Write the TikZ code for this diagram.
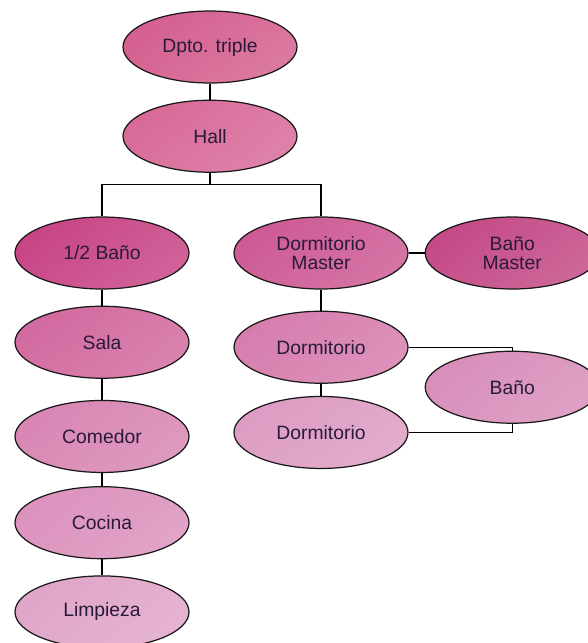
\documentclass[tikz,border=0pt]{standalone}
\usepackage{fontspec}
\setmainfont{Liberation Sans}
\usetikzlibrary{positioning,shapes.geometric}

\definecolor{rosaDpto}{HTML}{D4608F}
\definecolor{rosaHall}{HTML}{D86A98}
\definecolor{rosaMedio}{HTML}{C84585}
\definecolor{rosaDMaster}{HTML}{CD5A94}
\definecolor{rosaBMaster}{HTML}{C44A86}
\definecolor{rosaSala}{HTML}{D26A9F}
\definecolor{rosaDormA}{HTML}{D67DAD}
\definecolor{rosaBano}{HTML}{D88FBA}
\definecolor{rosaComedor}{HTML}{D886B3}
\definecolor{rosaDormB}{HTML}{DD9CC3}
\definecolor{rosaCocina}{HTML}{DC92BD}
\definecolor{rosaLimpieza}{HTML}{E0A5C8}
\definecolor{tinta}{HTML}{2A1A3A}

\tikzset{
    room/.style={
        ellipse,
        draw=black!90,
        line width=0.7pt,
        minimum width=3.48cm,
        minimum height=1.44cm,
        inner sep=0pt,
        align=center,
        font=\fontsize{11}{10.6}\selectfont,
        text=tinta,
        top color=#1,
        bottom color=#1!84!white,
        shading angle=40
    },
    link/.style={line width=0.6pt, black}
}

\begin{document}
\begin{tikzpicture}

    \useasboundingbox (0,0) rectangle (11.76,-12.86);

    % top
    \node[room=rosaDpto] (dpto) at (4.2,-0.94) {Dpto. triple};
    \node[room=rosaHall, below=0.32cm of dpto] (hall) {Hall};

    % left branch
    \node[room=rosaMedio] (medio) at (2.04,-5.06) {1/2 Baño};
    \node[room=rosaSala, below=0.32cm of medio] (sala) {Sala};
    \node[room=rosaComedor, below=0.42cm of sala] (comedor) {Comedor};
    \node[room=rosaCocina, below=0.26cm of comedor] (cocina) {Cocina};
    \node[room=rosaLimpieza, below=0.32cm of cocina] (limpieza) {Limpieza};

    % right branch
    \node[room=rosaDMaster] (dmaster) at (6.42,-5.06) {Dormitorio\\Master};
    \node[room=rosaBMaster, right=0.32cm of dmaster] (bmaster) {Baño\\Master};
    \node[room=rosaDormA, below=0.42cm of dmaster] (dormA) {Dormitorio};
    \node[room=rosaDormB, below=0.24cm of dormA] (dormB) {Dormitorio};
    \node[room=rosaBano, below=1.22cm of bmaster] (bano) {Baño};

    % connectors
    \draw[link] (dpto) -- (hall);
    \draw[link] (hall.south) -- ++(0,-0.24) coordinate (bus);
    \draw[link] (bus) -| (medio.north);
    \draw[link] (bus) -| (dmaster.north);

    \draw[link] (medio) -- (sala);
    \draw[link] (sala) -- (comedor);
    \draw[link] (comedor) -- (cocina);
    \draw[link] (cocina) -- (limpieza);

    \draw[link] (dmaster) -- (bmaster);
    \draw[link] (dmaster) -- (dormA);
    \draw[link] (dormA) -- (dormB);
    \draw[link] (dormA.east) -| (bano.north);
    \draw[link] (dormB.east) -| (bano.south);

\end{tikzpicture}
\end{document}
